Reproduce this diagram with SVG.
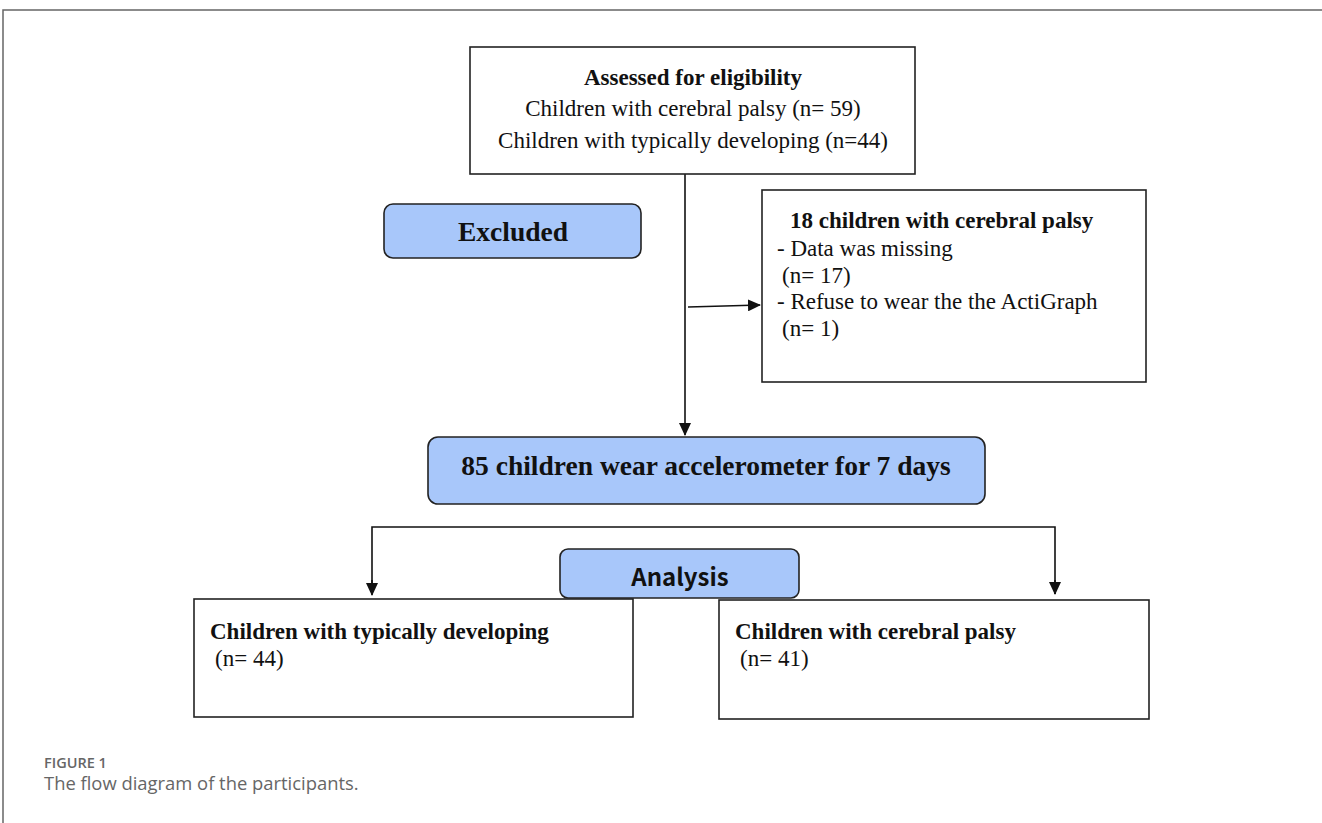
<svg xmlns="http://www.w3.org/2000/svg" width="1322" height="823" viewBox="0 0 1322 823">
<defs>
<style>
.box{fill:#fff;stroke:#222;stroke-width:1.6}
.blue{fill:#a8c7fa;stroke:#222;stroke-width:1.6}
.t{font-family:"Liberation Serif",serif;fill:#111}
.b{font-weight:bold}
.ln{stroke:#111;stroke-width:1.6;fill:none}
.cap{font-family:"Open Sans","Lato",sans-serif;fill:#666}
</style>
<marker id="ah" markerWidth="13" markerHeight="12" refX="12" refY="6" orient="auto" markerUnits="userSpaceOnUse">
<path d="M0,0 L13,6 L0,12 z" fill="#111"/>
</marker>
</defs>
<rect width="1322" height="823" fill="#fff"/>
<path d="M3,823 V10 H1322" stroke="#666" stroke-width="1.5" fill="none"/>

<g id="connectors">
<line class="ln" x1="685" y1="174" x2="685" y2="435" marker-end="url(#ah)"/>
<line class="ln" x1="688" y1="307" x2="760" y2="305" marker-end="url(#ah)"/>
<path class="ln" d="M372,594 V527 H1055 V594"/>
<line class="ln" x1="372" y1="580" x2="372" y2="595" marker-end="url(#ah)"/>
<line class="ln" x1="1055" y1="580" x2="1055" y2="594" marker-end="url(#ah)"/>
</g>

<g id="assessed">
<rect class="box" x="470" y="47" width="445" height="127"/>
<text class="t b" x="693" y="85" font-size="23" text-anchor="middle">Assessed for eligibility</text>
<text class="t" x="693" y="116" font-size="23" text-anchor="middle">Children with cerebral palsy (n= 59)</text>
<text class="t" x="693" y="148" font-size="23" text-anchor="middle">Children with typically developing (n=44)</text>
</g>

<g id="excluded">
<rect class="blue" x="384" y="204" width="257" height="54" rx="9"/>
<text class="t b" x="513" y="241" font-size="27.5" text-anchor="middle">Excluded</text>
</g>

<g id="excluded-detail">
<rect class="box" x="762" y="190" width="384" height="192"/>
<text class="t b" x="790" y="228" font-size="23">18 children with cerebral palsy</text>
<text class="t" x="777" y="256" font-size="23">- Data was missing</text>
<text class="t" x="782" y="283" font-size="23">(n= 17)</text>
<text class="t" x="777" y="309" font-size="23">- Refuse to wear the the ActiGraph</text>
<text class="t" x="782" y="336" font-size="23">(n= 1)</text>
</g>

<g id="wear">
<rect class="blue" x="428" y="437" width="557" height="67" rx="10"/>
<text class="t b" x="706" y="475" font-size="27.5" text-anchor="middle">85 children wear accelerometer for 7 days</text>
</g>

<g id="typical">
<rect class="box" x="194" y="599" width="439" height="118"/>
<text class="t b" x="210" y="639" font-size="23">Children with typically developing</text>
<text class="t" x="215" y="666" font-size="23">(n= 44)</text>
</g>

<g id="cp">
<rect class="box" x="719" y="600" width="430" height="119"/>
<text class="t b" x="735" y="639" font-size="23">Children with cerebral palsy</text>
<text class="t" x="740" y="666" font-size="23">(n= 41)</text>
</g>

<g id="analysis">
<rect class="blue" x="560" y="549" width="239" height="49" rx="8"/>
<text x="680" y="586" font-size="24" font-weight="bold" text-anchor="middle" font-family="'Noto Sans CJK KR','Noto Sans',sans-serif" fill="#111">Analysis</text>
</g>

<g id="caption">
<text class="cap" x="44" y="768" font-size="14.5" font-weight="600" fill="#666">FIGURE 1</text>
<text class="cap" x="44" y="790" font-size="18.4" fill="#555">The flow diagram of the participants.</text>
</g>
</svg>
